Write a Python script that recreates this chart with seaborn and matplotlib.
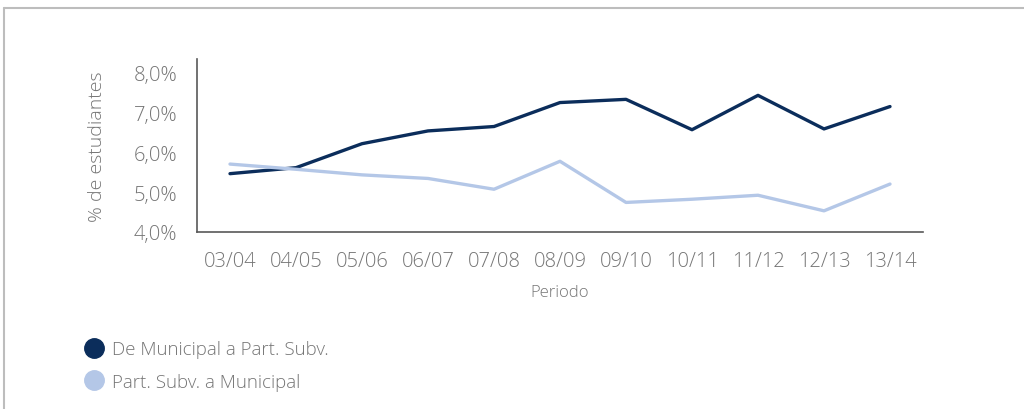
import matplotlib
matplotlib.use("Agg")
import matplotlib.pyplot as plt
import seaborn as sns
import pandas as pd
from matplotlib.lines import Line2D
from matplotlib.ticker import FuncFormatter

periodos = ["03/04", "04/05", "05/06", "06/07", "07/08", "08/09",
            "09/10", "10/11", "11/12", "12/13", "13/14"]
mun_a_ps = [5.46, 5.61, 6.21, 6.53, 6.64, 7.24, 7.32, 6.56, 7.42, 6.58, 7.14]
ps_a_mun = [5.70, 5.57, 5.43, 5.34, 5.07, 5.77, 4.74, 4.82, 4.92, 4.53, 5.20]
series = ["De Municipal a Part. Subv.", "Part. Subv. a Municipal"]
colores = ["#0b2d5b", "#b4c7e7"]

df = pd.DataFrame({
    "Periodo": periodos * 2,
    "valor": mun_a_ps + ps_a_mun,
    "serie": [series[0]] * len(periodos) + [series[1]] * len(periodos),
})

sns.set_style("white")
plt.rcParams["font.family"] = ["Open Sans", "DejaVu Sans"]
gris = "#757575"

fig = plt.figure(figsize=(10.24, 4.10), dpi=100)
ax = fig.add_axes([197 / 1024, 1 - 233 / 410, (923 - 197) / 1024, (233 - 60) / 410])

sns.lineplot(data=df, x="Periodo", y="valor", hue="serie", palette=colores,
             linewidth=2.4, ax=ax, legend=False, sort=False)

ax.set_xlim(-0.5, len(periodos) - 0.5)
ax.set_ylim(4.0, 8.33)
ax.set_yticks([4, 5, 6, 7, 8])
ax.yaxis.set_major_formatter(FuncFormatter(lambda v, p: f"{v:.1f}%".replace(".", ",")))
ax.tick_params(axis="both", length=0, labelsize=14.5, labelcolor=gris)
ax.tick_params(axis="x", pad=14)
ax.tick_params(axis="y", pad=14)
for lab in ax.get_xticklabels() + ax.get_yticklabels():
    lab.set_fontweight("light")

ax.set_xlabel("Periodo", fontsize=12, color=gris, labelpad=9, fontweight="light")
ax.set_ylabel("% de estudiantes", fontsize=14, color=gris, labelpad=20, fontweight="light")

for s in ["top", "right"]:
    ax.spines[s].set_visible(False)
for s in ["left", "bottom"]:
    ax.spines[s].set_color("#595959")
    ax.spines[s].set_linewidth(1.2)

handles = [Line2D([], [], linestyle="none", marker="o", markersize=14,
                  markerfacecolor=c, markeredgecolor=c) for c in colores]
leg = fig.legend(handles, series, loc="upper left", bbox_to_anchor=(75 / 1024, 1 - 334 / 410),
                 frameon=False, fontsize=13.5, handletextpad=0.4, labelspacing=0.75,
                 handlelength=1.2, borderaxespad=0)
for t in leg.get_texts():
    t.set_color(gris)
    t.set_fontweight("light")

# marco exterior
fig.add_artist(Line2D([4 / 1024, 1], [1 - 9 / 410] * 2, color="#bdbdbd", linewidth=1.5))
fig.add_artist(Line2D([4 / 1024] * 2, [0, 1 - 9 / 410], color="#bdbdbd", linewidth=1.5))

fig.savefig("out.png", dpi=100)
